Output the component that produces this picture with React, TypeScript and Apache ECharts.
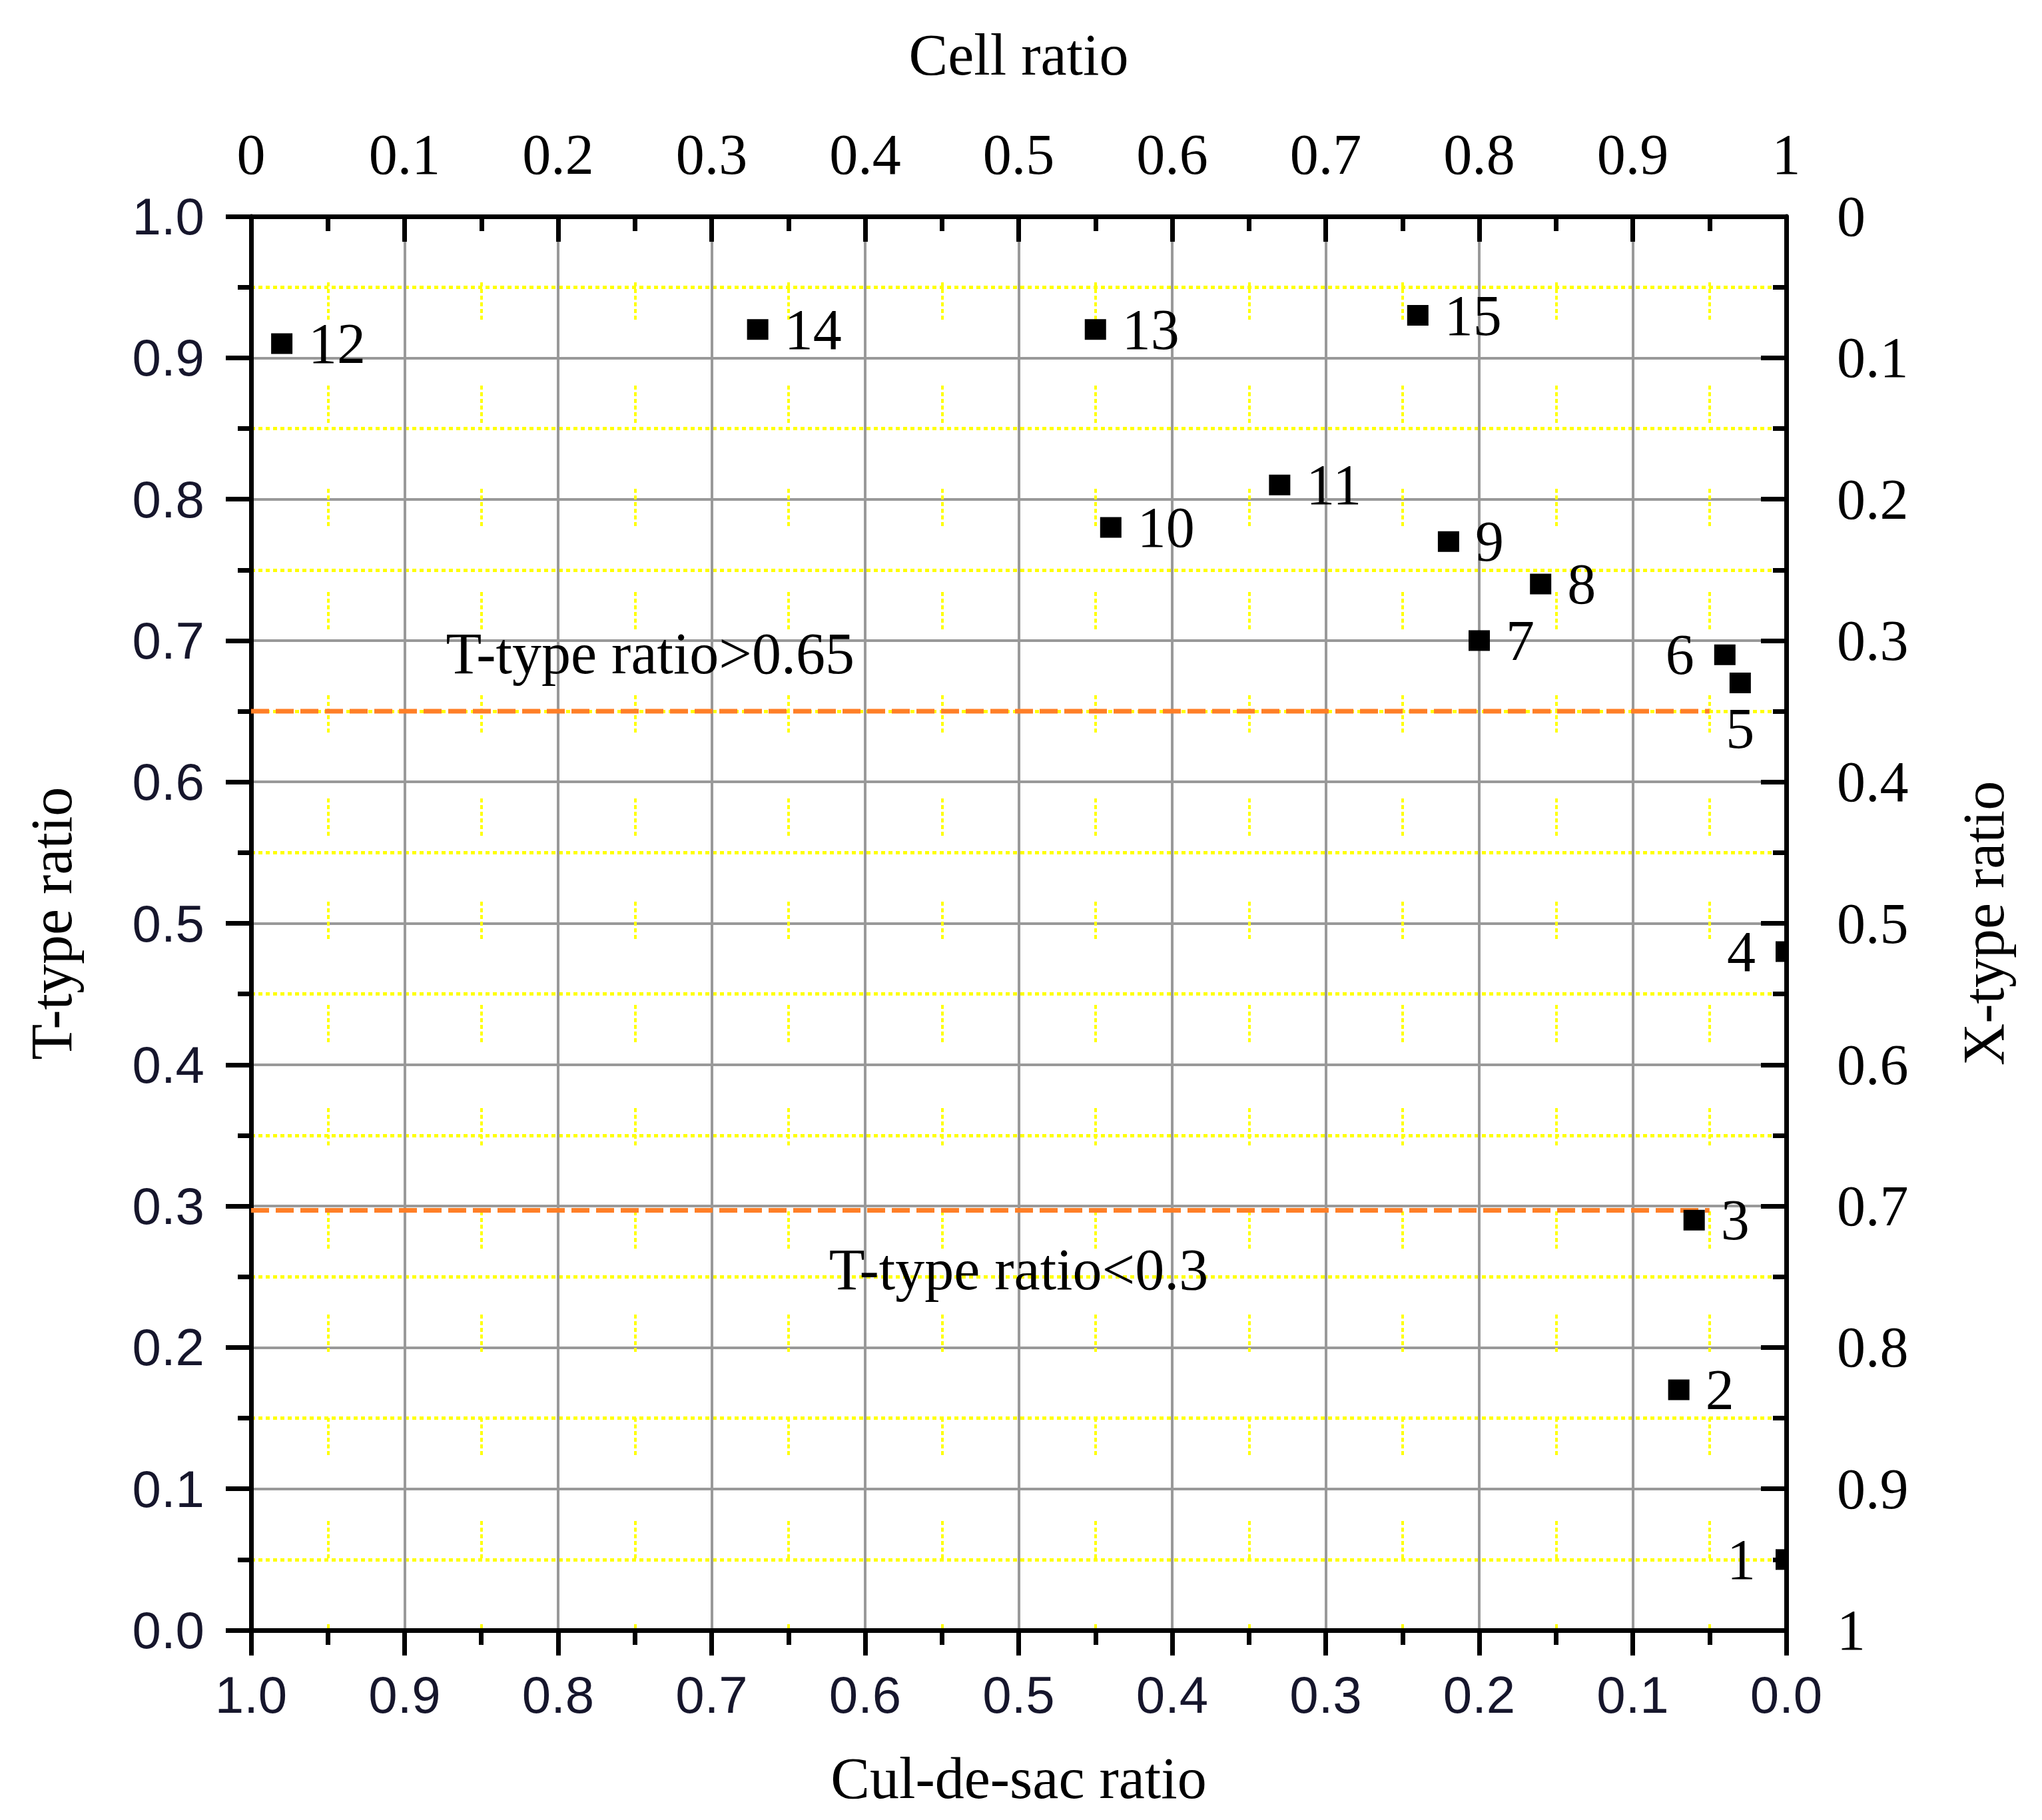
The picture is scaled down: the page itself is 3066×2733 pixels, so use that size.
import React, { useEffect, useRef } from 'react';
import * as echarts from 'echarts';

// ---- data ----
const siteIds = [1, 2, 3, 4, 5, 6, 7, 8, 9, 10, 11, 12, 13, 14, 15];
const culDeSacRatio = [0.0, 0.07, 0.06, 0.0, 0.03, 0.04, 0.2, 0.16, 0.22, 0.44, 0.33, 0.98, 0.45, 0.67, 0.24];
const tTypeRatio = [0.05, 0.17, 0.29, 0.48, 0.67, 0.69, 0.7, 0.74, 0.77, 0.78, 0.81, 0.91, 0.92, 0.92, 0.93];
const labelSide = ['left', 'right', 'right', 'left', 'bottom', 'left', 'right', 'right', 'right', 'right', 'right', 'right', 'right', 'right', 'right'];

const thresholdValues = [0.65, 0.297];
const thresholdFrom = 1.0; // cul-de-sac ratio where the dashed lines start
const thresholdTo = 0.05; // cul-de-sac ratio where they end
const annotationTexts = ['T-type ratio>0.65', 'T-type ratio<0.3'];
const annotationCul = [0.74, 0.5];
const annotationT = [0.691, 0.255];

const axisMin = 0;
const axisMax = 1;
const axisStep = 0.1;

const SERIF = 'Liberation Serif';
const SANS = 'Liberation Sans';
const SANS_COLOR = '#16162c';

function App() {
  const ref = useRef<HTMLDivElement>(null);

  useEffect(() => {
    if (!ref.current) return;
    const chart = echarts.init(ref.current, undefined, { renderer: 'svg' });

    const axisLine = { show: true, onZero: false, lineStyle: { color: '#000', width: 7 } };
    const tick = (inside: boolean) => ({ show: true, inside, length: 38, lineStyle: { color: '#000', width: 7 } });
    const minor = { show: true, splitNumber: 2, length: 20, lineStyle: { color: '#000', width: 7 } };
    const nameStyle = { fontFamily: SERIF, fontSize: 88, color: '#000' };
    const gridLine = { show: true, lineStyle: { color: '#999999', width: 4 } };

    const option: any = {
      animation: false,
      backgroundColor: '#ffffff',
      grid: { left: 377, top: 325, width: 2305, height: 2123, containLabel: false },
      xAxis: [
        {
          type: 'value',
          position: 'bottom',
          inverse: true,
          min: axisMin,
          max: axisMax,
          interval: axisStep,
          name: 'Cul-de-sac ratio',
          nameLocation: 'middle',
          nameGap: 178,
          nameTextStyle: nameStyle,
          axisLine,
          axisTick: tick(false),
          minorTick: { ...minor, length: 22 },
          axisLabel: {
            margin: 58,
            fontFamily: SANS,
            fontSize: 78,
            color: SANS_COLOR,
            formatter: (v: number) => v.toFixed(1),
          },
          splitLine: gridLine,
          minorSplitLine: {
            show: true,
            lineStyle: {
              color: '#ffff00',
              width: 4,
              type: [6, 4, 6, 4, 6, 4, 6, 4, 6, 4, 6, 99],
              dashOffset: 56,
            },
          },
        },
        {
          type: 'value',
          position: 'top',
          min: axisMin,
          max: axisMax,
          interval: axisStep,
          name: 'Cell ratio',
          nameLocation: 'middle',
          nameGap: 199,
          nameTextStyle: nameStyle,
          axisLine,
          axisTick: tick(true),
          minorTick: { ...minor, length: 22 },
          axisLabel: { margin: 50, fontFamily: SERIF, fontSize: 86, color: '#000' },
          splitLine: { show: false },
        },
      ],
      yAxis: [
        {
          type: 'value',
          position: 'left',
          min: axisMin,
          max: axisMax,
          interval: axisStep,
          name: 'T-type ratio',
          nameLocation: 'middle',
          nameRotate: 90,
          nameGap: 256,
          nameTextStyle: nameStyle,
          axisLine,
          axisTick: tick(false),
          minorTick: minor,
          axisLabel: {
            margin: 70,
            fontFamily: SANS,
            fontSize: 78,
            color: SANS_COLOR,
            formatter: (v: number) => v.toFixed(1),
          },
          splitLine: gridLine,
          minorSplitLine: {
            show: true,
            lineStyle: { color: '#ffff00', width: 5, type: [6, 5] },
          },
        },
        {
          type: 'value',
          position: 'right',
          inverse: true,
          min: axisMin,
          max: axisMax,
          interval: axisStep,
          name: 'X-type ratio',
          nameLocation: 'middle',
          nameRotate: 90,
          nameGap: 252,
          nameTextStyle: nameStyle,
          axisLine,
          axisTick: tick(true),
          minorTick: minor,
          axisLabel: { margin: 76, fontFamily: SERIF, fontSize: 86, color: '#000' },
          splitLine: { show: false },
        },
      ],
      series: [
        ...thresholdValues.map((t) => ({
          type: 'line',
          xAxisIndex: 0,
          yAxisIndex: 0,
          symbol: 'none',
          silent: true,
          z: 3,
          data: [
            [thresholdFrom, t],
            [thresholdTo, t],
          ],
          lineStyle: { color: '#ff7f27', width: 7, type: [27, 10] },
        })),
        {
          type: 'custom',
          xAxisIndex: 0,
          yAxisIndex: 0,
          silent: true,
          z: 4,
          encode: { x: 0, y: 1 },
          data: annotationTexts.map((txt, i) => [annotationCul[i], annotationT[i], i]),
          renderItem: (params: any, api: any) => {
            const p = api.coord([api.value(0), api.value(1)]);
            return {
              type: 'text',
              x: p[0],
              y: p[1],
              style: {
                text: annotationTexts[params.dataIndex],
                fill: '#000',
                fontFamily: SERIF,
                fontSize: 88,
                align: 'center',
                verticalAlign: 'middle',
              },
            };
          },
        },
        {
          type: 'custom',
          xAxisIndex: 0,
          yAxisIndex: 0,
          clip: true,
          z: 5,
          silent: true,
          encode: { x: 0, y: 1 },
          data: siteIds.map((id, i) => [culDeSacRatio[i], tTypeRatio[i], id]),
          renderItem: (params: any, api: any) => {
            const i = params.dataIndex;
            const p = api.coord([api.value(0), api.value(1)]);
            const side = labelSide[i];
            let tx = p[0] + 40;
            let ty = p[1];
            let align = 'left';
            if (side === 'left') {
              tx = p[0] - 46;
              align = 'right';
            } else if (side === 'bottom') {
              tx = p[0];
              ty = p[1] + 68;
              align = 'center';
            }
            return {
              type: 'group',
              children: [
                {
                  type: 'rect',
                  shape: { x: p[0] - 16, y: p[1] - 15.5, width: 32, height: 31 },
                  style: { fill: '#000' },
                },
                {
                  type: 'text',
                  x: tx,
                  y: ty,
                  style: {
                    text: String(api.value(2)),
                    fill: '#000',
                    fontFamily: SERIF,
                    fontSize: 86,
                    align,
                    verticalAlign: 'middle',
                  },
                },
              ],
            };
          },
        },
      ],
    };

    chart.setOption(option);
    return () => chart.dispose();
  }, []);

  return (
    <div
      ref={ref}
      style={{ position: 'absolute', left: 0, top: 0, width: 3066, height: 2733, background: '#fff' }}
    />
  );
}

export default App;
